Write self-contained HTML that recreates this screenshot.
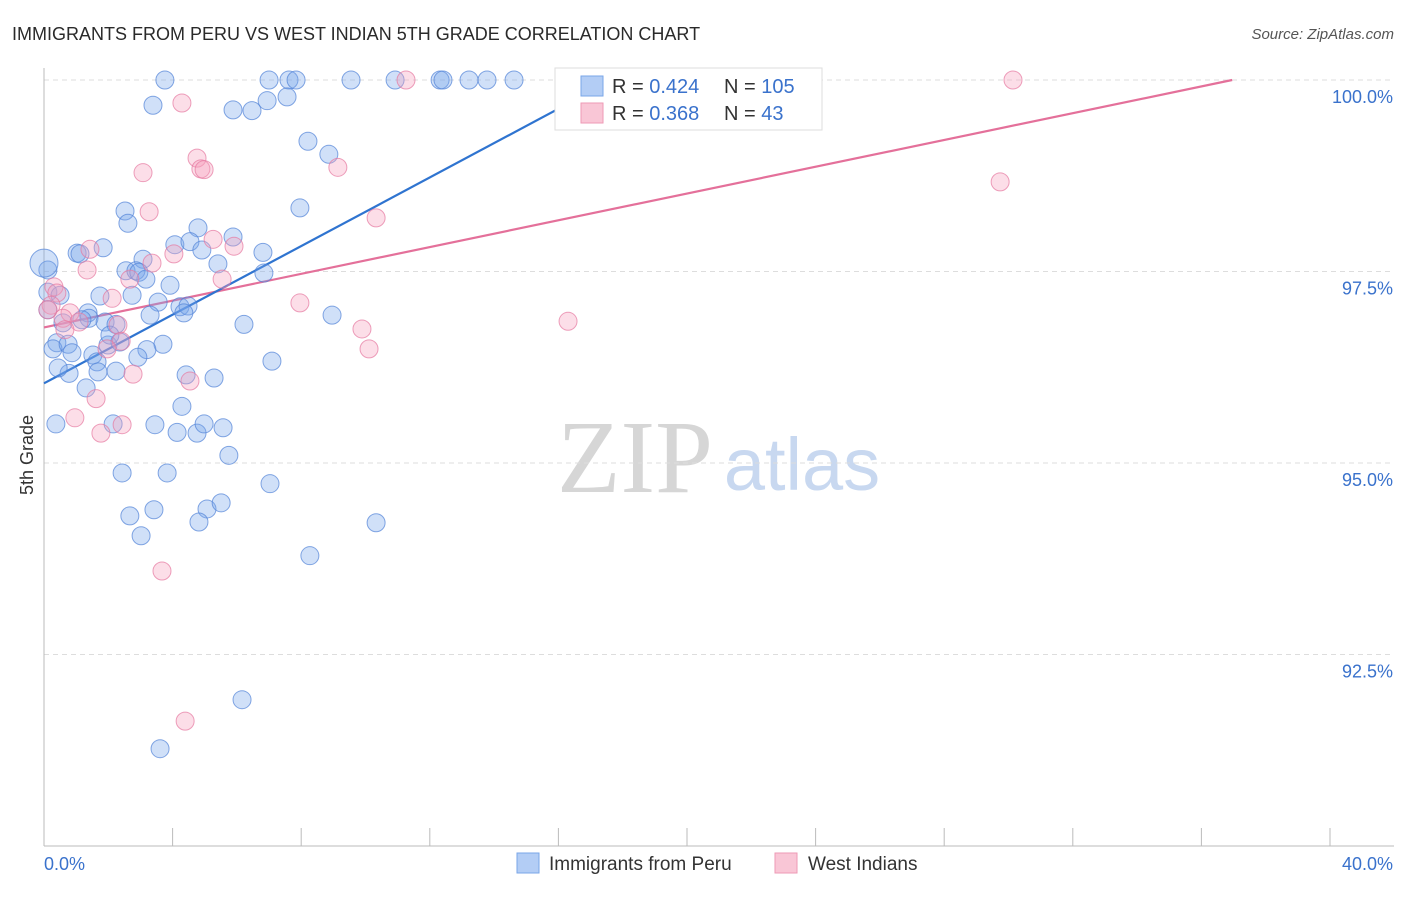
<!DOCTYPE html>
<html><head><meta charset="utf-8"><style>
body{margin:0;background:#fff;font-family:"Liberation Sans",sans-serif;}
svg text{font-family:"Liberation Sans",sans-serif;}
</style></head><body>
<svg id="chart" width="1406" height="892" xmlns="http://www.w3.org/2000/svg">
<text x="12" y="40" font-size="18" fill="#2a2a2a">IMMIGRANTS FROM PERU VS WEST INDIAN 5TH GRADE CORRELATION CHART</text>
<text x="1394" y="39" font-size="15" fill="#555" text-anchor="end" font-style="italic">Source: ZipAtlas.com</text>
<text x="33" y="455" font-size="18" fill="#333" text-anchor="middle" transform="rotate(-90 33 455)">5th Grade</text>
<g>
<text x="635" y="492" font-size="104" fill="#d6d6d6" style="font-family:'Liberation Serif',serif" text-anchor="middle">ZIP</text>
<text x="802" y="490" font-size="74" fill="#c8d8f0" text-anchor="middle">atlas</text>
</g>
<g id="grid"></g><g id="axes"></g><g id="lines"></g><g id="pts"></g>
<g>
<rect x="555" y="68" width="267" height="62" fill="#fff" stroke="#ddd"/>
<rect x="581" y="76" width="22" height="20" fill="#b3cdf5" stroke="#7aa6e8"/>
<rect x="581" y="103" width="22" height="20" fill="#f9c6d6" stroke="#ee9ab5"/>
<text x="612" y="93" font-size="20" fill="#333">R = <tspan fill="#3a72cc">0.424</tspan></text>
<text x="724" y="93" font-size="20" fill="#333">N = <tspan fill="#3a72cc">105</tspan></text>
<text x="612" y="120" font-size="20" fill="#333">R = <tspan fill="#3a72cc">0.368</tspan></text>
<text x="724" y="120" font-size="20" fill="#333">N = <tspan fill="#3a72cc">  43</tspan></text>
</g>
<g>
<rect x="517" y="853" width="22" height="20" fill="#b3cdf5" stroke="#7aa6e8"/>
<text x="549" y="870" font-size="19" fill="#333">Immigrants from Peru</text>
<rect x="775" y="853" width="22" height="20" fill="#f9c6d6" stroke="#ee9ab5"/>
<text x="808" y="870" font-size="19" fill="#333">West Indians</text>
</g>
</svg>
<script>
const yTicks=[92.5,95.0,97.5,100.0];
const xTickLabels=["0.0%","40.0%"];
const peruX=[3.76,7.00,7.62,7.84,9.55,10.92,12.32,12.41,13.22,13.78,14.62,16.36,3.39,5.88,6.47,6.94,7.56,8.21,8.86,2.52,2.61,7.96,4.79,5.88,4.07,4.54,1.03,1.12,1.84,3.08,6.81,4.91,5.41,2.55,2.86,2.95,3.17,6.84,1.74,2.74,3.55,3.92,4.23,4.48,4.35,0.12,0.12,0.12,0.50,1.37,1.40,0.59,1.18,1.90,2.24,3.30,6.22,8.96,0.40,0.28,0.75,0.87,1.99,2.36,3.70,3.20,2.05,1.52,1.65,2.92,7.09,0.78,0.44,1.31,2.24,1.68,4.42,5.29,4.29,0.37,2.15,3.45,4.14,4.76,4.98,5.57,5.75,2.43,3.83,7.03,2.67,3.42,5.07,5.51,4.82,10.33,3.02,8.27,6.16,3.61];
const peruY=[100,100,100,100,100,100,100,100,100,100,100,100,99.67,99.61,99.60,99.73,99.78,99.20,99.03,98.29,98.13,98.33,98.07,97.95,97.85,97.89,97.74,97.73,97.81,97.66,97.75,97.78,97.60,97.51,97.51,97.49,97.40,97.48,97.18,97.19,97.10,97.32,97.04,97.05,96.96,97.52,97.23,97.00,97.19,96.96,96.89,96.83,96.87,96.84,96.81,96.93,96.81,96.93,96.57,96.49,96.55,96.44,96.54,96.58,96.55,96.48,96.67,96.41,96.32,96.38,96.33,96.17,96.24,95.98,96.20,96.19,96.15,96.11,95.74,95.51,95.51,95.50,95.40,95.39,95.51,95.46,95.10,94.87,94.87,94.73,94.31,94.39,94.40,94.48,94.23,94.22,94.05,93.79,91.91,91.27];
const wiX=[11.26,30.14,4.29,4.76,4.88,4.98,9.14,3.08,3.27,10.33,29.74,1.43,5.26,5.91,4.04,3.36,1.34,2.67,5.54,0.31,0.40,2.12,7.96,0.22,0.81,0.59,1.09,2.30,9.89,16.30,0.65,2.40,10.11,1.96,2.77,4.54,1.62,0.96,2.43,1.77,3.67,4.39,0.12];
const wiY=[100,100,99.70,98.98,98.84,98.83,98.86,98.79,98.28,98.20,98.67,97.79,97.92,97.83,97.73,97.61,97.52,97.40,97.40,97.30,97.22,97.15,97.09,97.06,96.96,96.89,96.84,96.80,96.75,96.85,96.74,96.59,96.49,96.49,96.16,96.07,95.84,95.59,95.50,95.39,93.59,91.63,97.00];
const peruLine=[96.04,0.224];
const wiLine=[96.77,0.0874];

const NS="http://www.w3.org/2000/svg";
const X0=44,X1=1330,XMAX=40,Y100=80,PXPER=76.6;
const sx=v=>X0+(X1-X0)*v/XMAX;
const sy=v=>Y100+(100-v)*PXPER;
function mk(tag,attrs,parent){const e=document.createElementNS(NS,tag);for(const k in attrs)e.setAttribute(k,attrs[k]);document.getElementById(parent).appendChild(e);return e;}
yTicks.forEach(t=>{
  const l=mk('line',{x1:44,x2:1394,y1:sy(t),y2:sy(t),stroke:'#ddd','stroke-dasharray':'5,4'},'grid');
  
  
  const tx=mk('text',{x:1393,y:sy(t)+23,'font-size':18,fill:'#3a72cc','text-anchor':'end'},'grid');
  tx.textContent=t.toFixed(1)+'%';
  
  
});
const ax=mk('line',{x1:44,x2:44,y1:68,y2:846,stroke:'#bbb'},'axes');


const bx=mk('line',{x1:44,x2:1394,y1:846,y2:846,stroke:'#bbb'},'axes');


for(let i=0;i<=10;i++){
  const t=mk('line',{x1:sx(i*4),x2:sx(i*4),y1:828,y2:846,stroke:'#bbb'},'axes');
  
  
}
[[0,'start'],[40,'end']].forEach((p,i)=>{
  const tx=mk('text',{x:i?1393:44,y:870,'font-size':18,fill:'#3a72cc','text-anchor':p[1]},'axes');
  tx.textContent=xTickLabels[i];
  
  
});
function trend(c,col,name){
  const xe=Math.min(40,(100-c[0])/c[1]);
  const l=mk('line',{x1:sx(0),y1:sy(c[0]),x2:sx(xe),y2:sy(c[0]+c[1]*xe),stroke:col,'stroke-width':2.2},'lines');
  
  
}
trend(wiLine,'#e4709a','west-indians-trendline');
trend(peruLine,'#2f74d0','peru-trendline');
peruX.forEach((x,i)=>{
  const c=mk('circle',{cx:sx(x),cy:sy(peruY[i]),r:9,fill:'rgba(120,165,235,0.35)',stroke:'rgba(80,130,215,0.7)','stroke-width':1},'pts');
  
  
});
const big=mk('circle',{cx:sx(0),cy:sy(97.61),r:14,fill:'rgba(120,165,235,0.35)',stroke:'rgba(80,130,215,0.7)'},'pts');


wiX.forEach((x,i)=>{
  const c=mk('circle',{cx:sx(x),cy:sy(wiY[i]),r:9,fill:'rgba(245,160,190,0.35)',stroke:'rgba(230,120,160,0.7)','stroke-width':1},'pts');
  
  
});
</script>
</body></html>
